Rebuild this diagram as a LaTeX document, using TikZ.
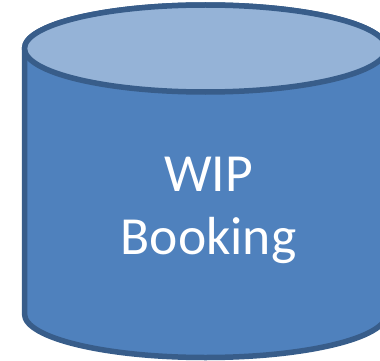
\documentclass[tikz,border=0pt]{standalone}
\usepackage{fontspec}
\setmainfont{Carlito}
\definecolor{bodyblue}{RGB}{79,129,189}
\definecolor{topblue}{RGB}{149,179,215}
\definecolor{edgeblue}{RGB}{56,93,138}
\tikzset{cyl/.style={draw=edgeblue,line width=5.5pt,line join=round},
lbl/.style={text=white,font=\fontsize{53.6}{63}\selectfont,align=center,inner sep=0pt}}
\begin{document}
\begin{tikzpicture}[x=1pt,y=-1pt]
\useasboundingbox (0,0) rectangle (380,361);
\clip (0,0) rectangle (380,361);
\path[cyl,fill=bodyblue] (24.5,48.5) -- (24.5,314) arc[start angle=180,end angle=360,x radius=181,y radius=-43.5] -- (386.5,48.5) arc[start angle=0,end angle=180,x radius=181,y radius=-43.5] -- cycle;
\path[cyl,fill=topblue] (205.5,48.5) ellipse[x radius=181,y radius=43.5];
\node[lbl] (label) at (208.5,210.5) {WIP\\Booking};
\end{tikzpicture}
\end{document}
